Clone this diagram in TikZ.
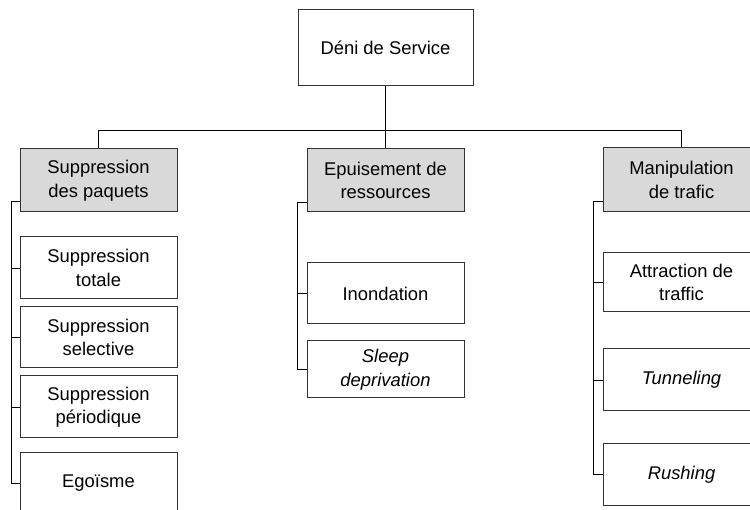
\documentclass[tikz,border=0pt]{standalone}
\usepackage{fontspec}
\setmainfont{Liberation Sans}
\begin{document}
\begin{tikzpicture}[x=1pt,y=-1pt,
  box/.style={draw=black!80,line width=1pt,fill=white,align=center,inner sep=0pt,
    minimum width=157pt,font=\fontsize{18.4}{23.5}\selectfont},
  cat/.style={box,fill=black!15},
  link/.style={line width=0.9pt,black}]
\useasboundingbox (0,0) rectangle (750,510);
\begin{scope}
\clip (0,0) rectangle (750,510);
\node[box,minimum width=175pt,minimum height=76pt] (top) at (385.5,48) {Déni de Service};
\node[cat,minimum height=63pt] (P1) at (98.5,180.5) {Suppression\\des paquets};
\node[cat,minimum height=63pt] (P2) at (385.5,180.5) {Epuisement de\\ressources};
\node[cat,minimum height=64pt] (P3) at (681.5,180) {Manipulation\\de trafic};
\node[box,minimum height=62pt] (C11) at (98.5,268) {Suppression\\totale};
\node[box,minimum height=61pt] (C12) at (98.5,337.5) {Suppression\\selective};
\node[box,minimum height=62pt] (C13) at (98.5,407) {Suppression\\périodique};
\node[box,minimum height=60pt] (C14) at (98.5,483) {Egoïsme};
\node[box,minimum height=61pt] (C21) at (385.5,293.5) {Inondation};
\node[box,minimum height=57pt] (C22) at (385.5,369.5) {\itshape Sleep\\\itshape deprivation};
\node[box,minimum height=59pt] (C31) at (681.5,282.5) {Attraction de\\traffic};
\node[box,minimum height=62pt] (C32) at (681.5,380) {\itshape Tunneling};
\node[box,minimum height=61pt] (C33) at (681.5,474.5) {\itshape Rushing};
\coordinate (bus) at (0,130);
\draw[link] (top.south) -- (P2.north);
\draw[link] (P1.north) -- (P1.north |- bus) -- (P3.north |- bus) -- (P3.north);
\draw[link] ([yshift=11pt]P1.south west) -- ++(-8,0) |- (C14.west);
\foreach \c in {C11,C12,C13} \draw[link] (\c.west) -- ++(-8,0);
\draw[link] ([yshift=10pt]P2.south west) -- ++(-9,0) |- (C22.west);
\draw[link] (C21.west) -- ++(-9,0);
\draw[link] ([yshift=11pt]P3.south west) -- ++(-9,0) |- (C33.west);
\foreach \c in {C31,C32} \draw[link] (\c.west) -- ++(-9,0);
\end{scope}
\end{tikzpicture}
\end{document}
